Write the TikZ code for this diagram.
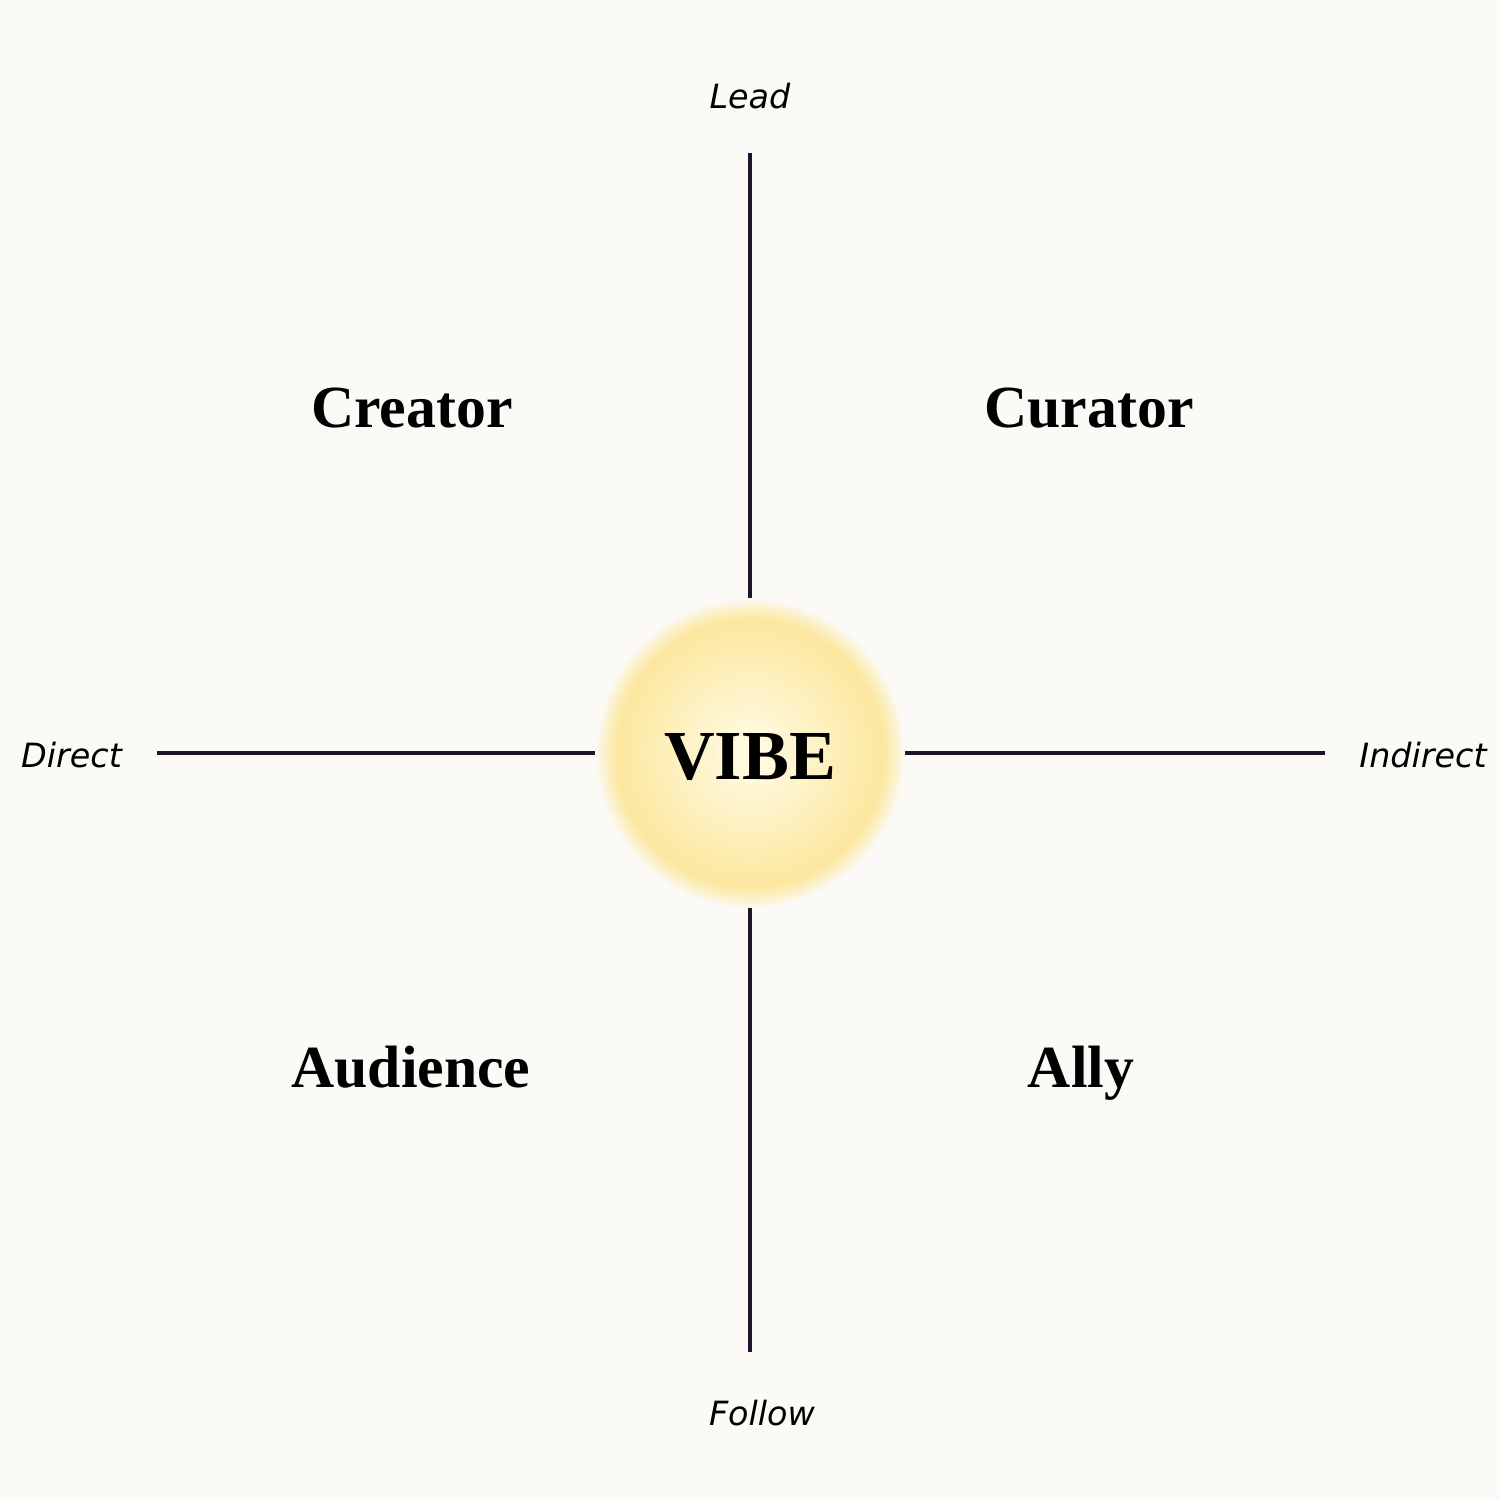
\documentclass[tikz,border=0pt]{standalone}
\usepackage{fontspec}
\setmainfont{Liberation Serif}
\setsansfont{DejaVu Sans}
\usetikzlibrary{positioning}
\definecolor{vbBack}{RGB}{251,250,246}
\definecolor{vbLine}{RGB}{30,21,45}
\definecolor{vbCore}{RGB}{255,251,230}
\definecolor{vbMid}{RGB}{254,242,195}
\definecolor{vbRim}{RGB}{252,231,158}
\pgfdeclareradialshading{vbglow}{\pgfpoint{0bp}{0bp}}{%
  color(0bp)=(vbCore); color(11bp)=(vbMid); color(21.5bp)=(vbRim);
  color(23.3bp)=(vbRim!55!vbBack); color(25bp)=(vbBack); color(50bp)=(vbBack)}

\begin{document}
\begin{tikzpicture}[
    axis/.style={draw=vbLine, line width=0.95pt},
    pole/.style={font=\sffamily\itshape\fontsize{9.5}{11}\selectfont, anchor=base},
    role/.style={font=\bfseries\fontsize{17}{20}\selectfont, anchor=base},
  ]
  % background and frame
  \fill[vbBack] (0,0) rectangle (15,15);
  \useasboundingbox (0,0) rectangle (15,15);

  % centre
  \node[circle, minimum size=2.96cm, inner sep=0pt] (vibe) at (7.5,7.47) {};

  % axes
  \coordinate (lead end) at (7.5,13.47);
  \coordinate (follow end) at (7.5,1.48);
  \coordinate (direct end) at (1.57,7.47);
  \coordinate (indirect end) at (13.25,7.47);
  \draw[axis] (lead end) -- (vibe.center);
  \draw[axis] (follow end) -- (vibe.center);
  \draw[axis] (direct end) -- (vibe.center);
  \draw[axis] (indirect end) -- (vibe.center);

  % glow
  \shade[shading=vbglow] (vibe.center) circle (1.55cm);
  \node[font=\bfseries\fontsize{20}{24}\selectfont, anchor=base] (vibe text) at (7.5,7.2) {VIBE};

  % pole labels
  \node[pole] (lead) at (7.5,13.91) {Lead};
  \node[pole] (follow) at (7.62,0.75) {Follow};
  \node[pole] (direct) at (0.715,7.32) {Direct};
  \node[pole] (indirect) at (14.23,7.32) {Indirect};

  % quadrants
  \node[role] (creator) at (4.12,10.72) {Creator};
  \node[role] (curator) at (10.89,10.72) {Curator};
  \node[role] (audience) at (4.11,4.12) {Audience};
  \node[role] (ally) at (10.81,4.12) {Ally};
\end{tikzpicture}
\end{document}
